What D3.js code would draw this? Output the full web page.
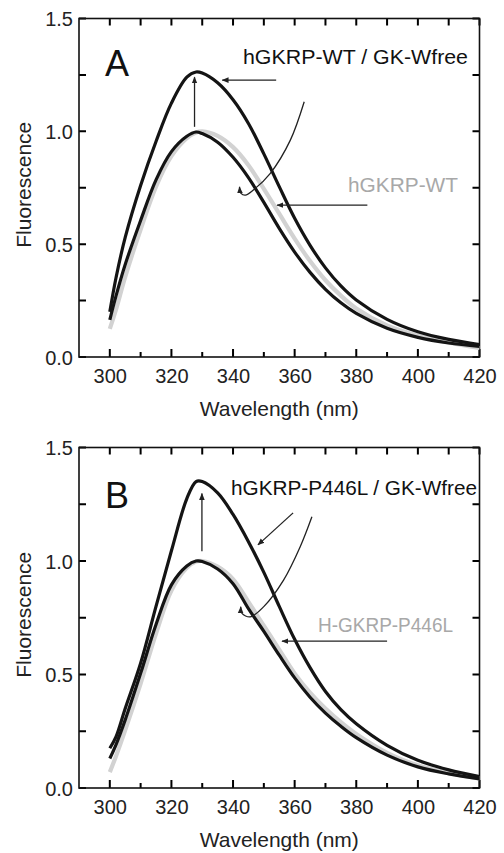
<!DOCTYPE html>
<html>
<head>
<meta charset="utf-8">
<script src="https://cdn.jsdelivr.net/npm/d3@7"></script>
<style>
  body { margin: 0; background: #fff; }
  svg { display: block; font-family: "Liberation Sans", Arial, sans-serif; }
</style>
</head>
<body>
<div id="chart"></div>
<script>

// data

const wavelengths = [300, 302, 305, 310, 315, 320, 325, 328, 330, 335, 340, 345, 350, 355, 360, 365, 370, 375, 380, 390, 400, 410, 420];

// panel A
const aComplex = [0.20, 0.35, 0.53, 0.76, 0.955, 1.125, 1.24, 1.263, 1.258, 1.215, 1.14, 1.035, 0.9, 0.755, 0.615, 0.495, 0.395, 0.315, 0.253, 0.167, 0.112, 0.078, 0.055];
const aBlack   = [0.165, 0.27, 0.41, 0.605, 0.785, 0.91, 0.978, 0.997, 0.99, 0.952, 0.885, 0.795, 0.685, 0.57, 0.465, 0.375, 0.30, 0.24, 0.193, 0.127, 0.087, 0.062, 0.047];
const aWT      = [0.125, 0.21, 0.355, 0.565, 0.755, 0.89, 0.97, 0.995, 1.0, 0.98, 0.93, 0.85, 0.745, 0.635, 0.525, 0.425, 0.34, 0.272, 0.215, 0.14, 0.095, 0.065, 0.04];

// panel B
const bComplex = [0.175, 0.225, 0.35, 0.55, 0.80, 1.045, 1.275, 1.35, 1.35, 1.30, 1.205, 1.085, 0.95, 0.80, 0.655, 0.53, 0.425, 0.345, 0.283, 0.188, 0.122, 0.08, 0.05];
const bBlack   = [0.13, 0.19, 0.30, 0.505, 0.72, 0.895, 0.978, 1.0, 0.998, 0.965, 0.90, 0.79, 0.69, 0.585, 0.485, 0.40, 0.33, 0.272, 0.222, 0.145, 0.093, 0.062, 0.04];
const bP446L   = [0.07, 0.14, 0.255, 0.46, 0.68, 0.87, 0.97, 0.998, 1.0, 0.975, 0.92, 0.82, 0.715, 0.61, 0.505, 0.42, 0.35, 0.29, 0.238, 0.155, 0.10, 0.066, 0.042];

// axis ticks
const xMajor = [300, 320, 340, 360, 380, 400, 420];
const xMinor = [310, 330, 350, 370, 390, 410];
const yMajor = [0, 0.5, 1.0, 1.5];
const yMinor = [0.25, 0.75, 1.25];

// annotation arrows, in data units [nm, fluorescence]
const aArrows = [
  [[327.5, 1.02], [327.5, 1.24]],
  [[354, 1.227], [336.5, 1.227]],
  [[363.1, 1.131], [358.6, 0.961], [352.1, 0.814], [346.6, 0.74], [344, 0.717], [342.6, 0.725], [342.1, 0.754]],
  [[383.6, 0.673], [354.3, 0.673]]
];
const bArrows = [
  [[329.9, 1.043], [329.9, 1.297]],
  [[359.5, 1.212], [348.1, 1.071]],
  [[365.6, 1.195], [361.8, 1.063], [356.4, 0.916], [349.9, 0.798], [345.6, 0.754], [342.9, 0.769], [342.5, 0.798]],
  [[390, 0.647], [355.9, 0.647]]
];

// constants

const width = 504;
const height = 853;
const left = 79;
const right = 479.5;

const svg = d3.select("#chart")
  .append("svg")
  .attr("width", width)
  .attr("height", height);

svg.append("defs").append("marker")
  .attr("id", "head")
  .attr("viewBox", "0 -5 10 10")
  .attr("refX", 9)
  .attr("refY", 0)
  .attr("markerWidth", 7)
  .attr("markerHeight", 7)
  .attr("markerUnits", "userSpaceOnUse")
  .attr("orient", "auto")
  .append("path")
  .attr("d", "M0,-4L10,0L0,4Z")
  .attr("fill", "#222");

const xScale = d3.scaleLinear()
  .domain([290, 420])
  .range([left, right]);

function panel(opts) {
  const yScale = d3.scaleLinear()
    .domain([0, 1.5])
    .range([opts.bottom, opts.top]);

  const g = svg.append("g");

  // tick labels from d3 axes
  const xAxisGroup = g.append("g")
    .attr("transform", `translate(0,${opts.bottom})`)
    .call(d3.axisBottom(xScale).tickValues(xMajor).tickSize(0).tickPadding(12));
  const yAxisGroup = g.append("g")
    .attr("transform", `translate(${left},0)`)
    .call(d3.axisLeft(yScale).tickValues(yMajor).tickSize(0).tickPadding(6)
      .tickFormat(d3.format(".1f")));
  [xAxisGroup, yAxisGroup].forEach(s => {
    s.select(".domain").remove();
    s.selectAll("text").attr("font-size", 20).attr("fill", "#222")
      .attr("font-family", "Liberation Sans, Arial, sans-serif");
  });
  yAxisGroup.selectAll("text").attr("dy", "0.36em");

  // inward ticks on all four sides, drawn as one path
  const p = d3.path();
  xMajor.concat(xMinor).forEach(v => {
    const len = xMajor.includes(v) ? 8 : 5;
    p.moveTo(xScale(v), opts.bottom); p.lineTo(xScale(v), opts.bottom - len);
    p.moveTo(xScale(v), opts.top); p.lineTo(xScale(v), opts.top + 7);
  });
  yMajor.concat(yMinor).forEach(v => {
    p.moveTo(left, yScale(v)); p.lineTo(left + 7, yScale(v));
    p.moveTo(right, yScale(v)); p.lineTo(right - 7, yScale(v));
  });
  g.append("path")
    .attr("d", p.toString())
    .attr("fill", "none")
    .attr("stroke", "#000")
    .attr("stroke-width", 2);

  g.append("rect")
    .attr("x", left)
    .attr("y", opts.top)
    .attr("width", right - left)
    .attr("height", opts.bottom - opts.top)
    .attr("fill", "none")
    .attr("stroke", "#111")
    .attr("stroke-width", 1.6);

  // curves
  const lineGen = d3.line()
    .x((d, i) => xScale(wavelengths[i]))
    .y(d => yScale(d))
    .curve(d3.curveCatmullRom);

  g.append("path")
    .attr("d", lineGen(opts.grey))
    .attr("fill", "none")
    .attr("stroke", "#d2d2d2")
    .attr("stroke-width", 4.2);

  [opts.black, opts.complex].forEach(s => {
    g.append("path")
      .attr("d", lineGen(s))
      .attr("fill", "none")
      .attr("stroke", "#141414")
      .attr("stroke-width", 3.2);
  });

  // annotation arrows
  const arrowGen = d3.line()
    .x(d => xScale(d[0]))
    .y(d => yScale(d[1]))
    .curve(d3.curveCatmullRom);

  opts.arrows.forEach(a => {
    g.append("path")
      .attr("d", arrowGen(a))
      .attr("fill", "none")
      .attr("stroke", "#222")
      .attr("stroke-width", 1.3)
      .attr("marker-end", "url(#head)");
  });

  // texts
  g.append("text")
    .attr("x", 105)
    .attr("y", opts.top + opts.letterDy)
    .attr("font-size", 36)
    .attr("fill", "#111")
    .text(opts.letter);

  g.append("text")
    .attr("x", opts.mainX)
    .attr("y", opts.top + opts.mainDy)
    .attr("font-size", 21)
    .attr("fill", "#111")
    .attr("textLength", opts.mainLen)
    .attr("lengthAdjust", "spacingAndGlyphs")
    .text(opts.mainLabel);

  g.append("text")
    .attr("x", opts.greyX)
    .attr("y", opts.greyY)
    .attr("font-size", 21)
    .attr("fill", "#a8a8a8")
    .attr("textLength", opts.greyLen)
    .attr("lengthAdjust", "spacingAndGlyphs")
    .text(opts.greyLabel);

  g.append("text")
    .attr("x", (left + right) / 2)
    .attr("y", opts.bottom + 59)
    .attr("text-anchor", "middle")
    .attr("font-size", 21)
    .attr("fill", "#222")
    .text("Wavelength (nm)");

  g.append("text")
    .attr("transform", `translate(31,${(opts.top + opts.bottom) / 2 - 3}) rotate(-90)`)
    .attr("text-anchor", "middle")
    .attr("font-size", 21)
    .attr("fill", "#222")
    .text("Fluorescence");
}

panel({
  top: 18.5, bottom: 357,
  complex: aComplex, black: aBlack, grey: aWT,
  arrows: aArrows,
  letter: "A", letterDy: 57.5,
  mainLabel: "hGKRP-WT / GK-Wfree", mainX: 243, mainDy: 45.5, mainLen: 225,
  greyLabel: "hGKRP-WT", greyX: 348, greyY: 192, greyLen: 110
});

panel({
  top: 447.5, bottom: 788,
  complex: bComplex, black: bBlack, grey: bP446L,
  arrows: bArrows,
  letter: "B", letterDy: 60.5,
  mainLabel: "hGKRP-P446L / GK-Wfree", mainX: 231, mainDy: 47.5, mainLen: 246,
  greyLabel: "H-GKRP-P446L", greyX: 318, greyY: 632, greyLen: 135
});

</script>
</body>
</html>
